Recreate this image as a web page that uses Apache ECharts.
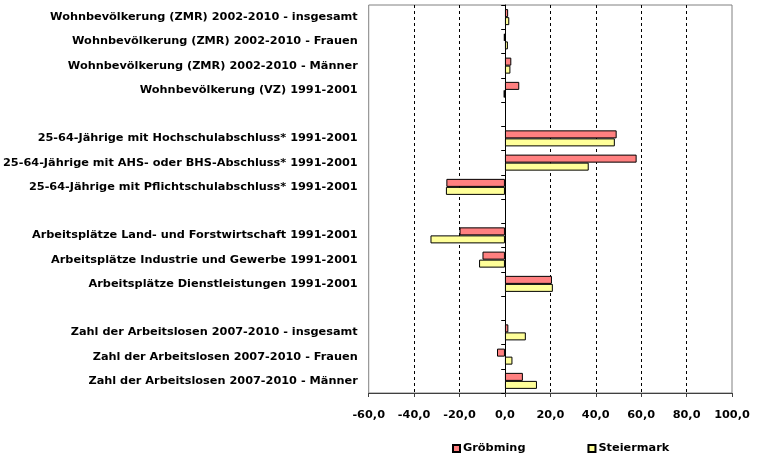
<!DOCTYPE html>
<html><head><meta charset="utf-8">
<script src="https://cdn.jsdelivr.net/npm/echarts@6/dist/echarts.min.js"></script>
<style>html,body{margin:0;padding:0;background:#fff}#c{width:765px;height:462px}</style>
</head><body><div id="c"></div>
<script>
const categories = [
  'Wohnbevölkerung (ZMR) 2002-2010 - insgesamt',
  'Wohnbevölkerung (ZMR) 2002-2010 - Frauen',
  'Wohnbevölkerung (ZMR) 2002-2010 - Männer',
  'Wohnbevölkerung (VZ) 1991-2001',
  ' ',
  '25-64-Jährige mit Hochschulabschluss* 1991-2001',
  '25-64-Jährige mit AHS- oder BHS-Abschluss* 1991-2001',
  '25-64-Jährige mit Pflichtschulabschluss* 1991-2001',
  '  ',
  'Arbeitsplätze Land- und Forstwirtschaft 1991-2001',
  'Arbeitsplätze Industrie und Gewerbe 1991-2001',
  'Arbeitsplätze Dienstleistungen 1991-2001',
  '   ',
  'Zahl der Arbeitslosen 2007-2010 - insgesamt',
  'Zahl der Arbeitslosen 2007-2010 - Frauen',
  'Zahl der Arbeitslosen 2007-2010 - Männer'
];
const groebming = [1.4, -0.5, 2.8, 6.3, null, 49.2, 58.0, -25.8, null, -20.0, -9.9, 20.7, null, 1.5, -3.5, 7.9];
const steiermark = [1.9, 1.3, 2.4, -0.6, null, 48.4, 36.9, -26.0, null, -32.8, -11.4, 21.1, null, 9.2, 3.3, 14.1];
const seriesNames = ['Gröbming', 'Steiermark'];
const xTicks = {min: -60, max: 100, interval: 20};

const FONT = 'Verdana, "DejaVu Sans", sans-serif';
const chart = echarts.init(document.getElementById('c'), null, {renderer: 'canvas'});
const gridLeft = 368, gridRight = 33;
const plotW = 765 - gridLeft - gridRight;
const zeroOff = (0 - xTicks.min) / (xTicks.max - xTicks.min) * plotW;
chart.setOption({
  animation: false,
  backgroundColor: '#fff',
  grid: {left: gridLeft, right: gridRight, top: 5, bottom: 69, show: true, borderColor: '#808080', borderWidth: 1, backgroundColor: 'transparent'},
  legend: {
    bottom: 3, left: 447, itemGap: 62, itemWidth: 7, itemHeight: 7, icon: 'rect',
    textStyle: {fontFamily: FONT, fontWeight: 'bold', fontSize: 11.3, color: '#000', padding: [0,0,0,-2]},
    data: seriesNames
  },
  xAxis: {
    type: 'value', min: xTicks.min, max: xTicks.max, interval: xTicks.interval,
    axisLine: {show: true, lineStyle: {color: '#404040', width: 1}},
    axisTick: {show: true, length: 4, lineStyle: {color: '#404040'}},
    axisLabel: {fontFamily: FONT, fontWeight: 'bold', fontSize: 11.3, color: '#000', margin: 17,
      formatter: v => v.toFixed(1).replace('.', ',')},
    splitLine: {show: true, showMinLine: false, showMaxLine: false, lineStyle: {color: '#000', type: [3, 3], width: 1}}
  },
  yAxis: [{
    type: 'category', data: categories, inverse: true,
    axisLine: {show: false}, axisTick: {show: false},
    axisLabel: {fontFamily: FONT, fontWeight: 'bold', fontSize: 11.3, color: '#000', margin: 11, interval: 0}
  }, {
    type: 'category', data: categories, inverse: true, position: 'left', offset: -zeroOff,
    axisLine: {show: true, onZero: false, lineStyle: {color: '#000', width: 1}},
    axisTick: {show: true, length: 4, lineStyle: {color: '#000'}},
    axisLabel: {show: false}
  }],
  series: [{
    name: seriesNames[0], type: 'bar', data: groebming, yAxisIndex: 0,
    barGap: '0%', barCategoryGap: '34%',
    itemStyle: {color: '#FF8080', borderColor: '#000', borderWidth: 1}
  }, {
    name: seriesNames[1], type: 'bar', data: steiermark, yAxisIndex: 0,
    barGap: '0%', barCategoryGap: '34%',
    itemStyle: {color: '#FFFF99', borderColor: '#000', borderWidth: 1}
  }]
});
</script></body></html>
